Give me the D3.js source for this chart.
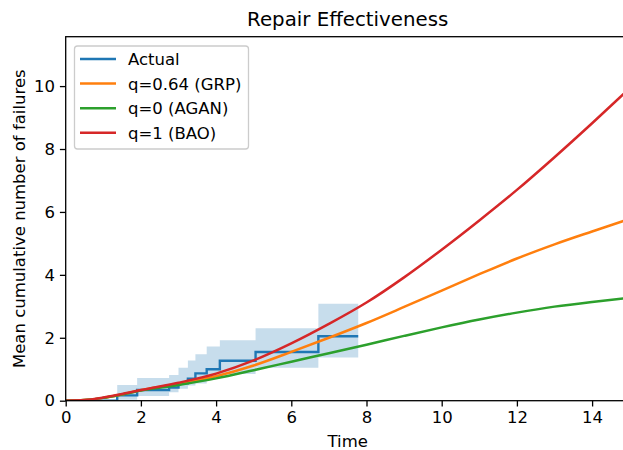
<!DOCTYPE html>
<html>
<head>
<meta charset="utf-8">
<script src="https://cdn.jsdelivr.net/npm/d3@7"></script>
<style>
  body { margin: 0; background: #fff; }
  svg { display: block; font-family: "DejaVu Sans", sans-serif; }
</style>
</head>
<body>
<svg id="chart" width="623" height="450"></svg>
<script>
// model curves
const times = [0, 0.5, 1, 1.5, 2, 3, 4, 5, 6, 7, 8, 9, 10, 11, 12, 13, 14, 15];
const grp  = [0, 0.02, 0.09, 0.2, 0.33, 0.54, 0.78, 1.12, 1.55, 2.0, 2.47, 2.98, 3.5, 4.02, 4.52, 4.97, 5.38, 5.78];
const agan = [0, 0.02, 0.09, 0.2, 0.32, 0.5, 0.71, 0.97, 1.24, 1.51, 1.78, 2.06, 2.33, 2.58, 2.8, 2.99, 3.14, 3.27];
const bao  = [0, 0.02, 0.1, 0.21, 0.34, 0.57, 0.86, 1.28, 1.82, 2.44, 3.12, 3.92, 4.8, 5.73, 6.7, 7.74, 8.82, 9.93];

// observed mean cumulative failures (step) and its band
const failTimes = [0, 1.37, 1.9, 2.75, 3.0, 3.25, 3.45, 3.75, 4.1, 5.05, 6.72, 7.78];
const actual    = [0, 0.17, 0.34, 0.42, 0.55, 0.7, 0.87, 1.0, 1.27, 1.55, 2.05, 2.05];
const bandLower = [null, 0.03, 0.15, 0.27, 0.38, 0.48, 0.55, 0.7, 0.85, 1.05, 1.37, 1.37];
const bandUpper = [null, 0.5, 0.72, 0.82, 1.05, 1.28, 1.48, 1.72, 1.92, 2.3, 3.08, 3.08];

const xTicks = [0, 2, 4, 6, 8, 10, 12, 14];
const yTicks = [0, 2, 4, 6, 8, 10];
const seriesNames = ['Actual', 'q=0.64 (GRP)', 'q=0 (AGAN)', 'q=1 (BAO)'];
const colors = ['#1f77b4', '#ff7f0e', '#2ca02c', '#d62728'];

const svg = d3.select('#chart');
const plotL = 65.7, plotR = 629.7, plotT = 36.7, plotB = 400.7;

const x = d3.scaleLinear().domain([0, 15]).range([plotL, plotR]);
const y = d3.scaleLinear().domain([0, 11.57]).range([plotB, plotT]);

svg.append('defs').append('clipPath').attr('id', 'clip')
  .append('rect')
  .attr('x', plotL).attr('y', plotT)
  .attr('width', plotR - plotL).attr('height', plotB - plotT);

const plot = svg.append('g').attr('clip-path', 'url(#clip)');

// confidence band
const band = failTimes.map((t, i) => ({t: t, lo: bandLower[i], hi: bandUpper[i]}))
  .filter(d => d.lo !== null);
plot.append('path')
  .datum(band)
  .attr('fill', colors[0])
  .attr('fill-opacity', 0.25)
  .attr('d', d3.area()
    .curve(d3.curveStepAfter)
    .x(d => x(d.t))
    .y0(d => y(d.lo))
    .y1(d => y(d.hi)));

// actual step line
plot.append('path')
  .datum(failTimes.map((t, i) => [t, actual[i]]))
  .attr('fill', 'none')
  .attr('stroke', colors[0])
  .attr('stroke-width', 2.4)
  .attr('d', d3.line()
    .curve(d3.curveStepAfter)
    .x(d => x(d[0]))
    .y(d => y(d[1])));

// model curves
const line = d3.line()
  .curve(d3.curveMonotoneX)
  .x(d => x(d[0]))
  .y(d => y(d[1]));

[grp, agan, bao].forEach((vals, k) => {
  plot.append('path')
    .datum(times.map((t, i) => [t, vals[i]]))
    .attr('fill', 'none')
    .attr('stroke', colors[k + 1])
    .attr('stroke-width', 2.5)
    .attr('stroke-linejoin', 'round')
    .attr('d', line);
});

// axes
const xAxis = svg.append('g')
  .attr('transform', 'translate(0,' + plotB + ')')
  .call(d3.axisBottom(x).tickValues(xTicks).tickSize(5.8).tickPadding(5).tickFormat(d3.format('d')));
const yAxis = svg.append('g')
  .attr('transform', 'translate(' + plotL + ',0)')
  .call(d3.axisLeft(y).tickValues(yTicks).tickSize(5.8).tickPadding(5).tickFormat(d3.format('d')));

[xAxis, yAxis].forEach(g => {
  g.select('.domain').remove();
  g.selectAll('line').attr('stroke', '#000').attr('stroke-width', 1.3);
  g.selectAll('text').attr('fill', '#000').style('font-size', '16.5px')
    .style('font-family', '"DejaVu Sans", sans-serif');
});

// spines
svg.append('rect')
  .attr('x', plotL).attr('y', plotT)
  .attr('width', plotR - plotL).attr('height', plotB - plotT)
  .attr('fill', 'none')
  .attr('stroke', '#000')
  .attr('stroke-width', 1.3);

// title and labels
svg.append('text')
  .attr('x', (plotL + plotR) / 2).attr('y', 26)
  .attr('text-anchor', 'middle')
  .style('font-size', '19.8px')
  .text('Repair Effectiveness');

svg.append('text')
  .attr('x', (plotL + plotR) / 2).attr('y', 447)
  .attr('text-anchor', 'middle')
  .style('font-size', '16.5px')
  .text('Time');

svg.append('text')
  .attr('transform', 'translate(25,' + (plotT + plotB) / 2 + ') rotate(-90)')
  .attr('text-anchor', 'middle')
  .style('font-size', '16.5px')
  .text('Mean cumulative number of failures');

// legend
const legend = svg.append('g');
legend.append('rect')
  .attr('x', 74.5).attr('y', 46)
  .attr('width', 174).attr('height', 103)
  .attr('rx', 3)
  .attr('fill', '#fff').attr('fill-opacity', 0.8)
  .attr('stroke', '#cccccc').attr('stroke-width', 1.3);

seriesNames.forEach((name, i) => {
  const yy = 59 + i * 24.6;
  legend.append('line')
    .attr('x1', 80).attr('x2', 116)
    .attr('y1', yy).attr('y2', yy)
    .attr('stroke', colors[i]).attr('stroke-width', 2.5);
  legend.append('text')
    .attr('x', 128).attr('y', yy + 6)
    .style('font-size', '16.5px')
    .text(name);
});
</script>
</body>
</html>
